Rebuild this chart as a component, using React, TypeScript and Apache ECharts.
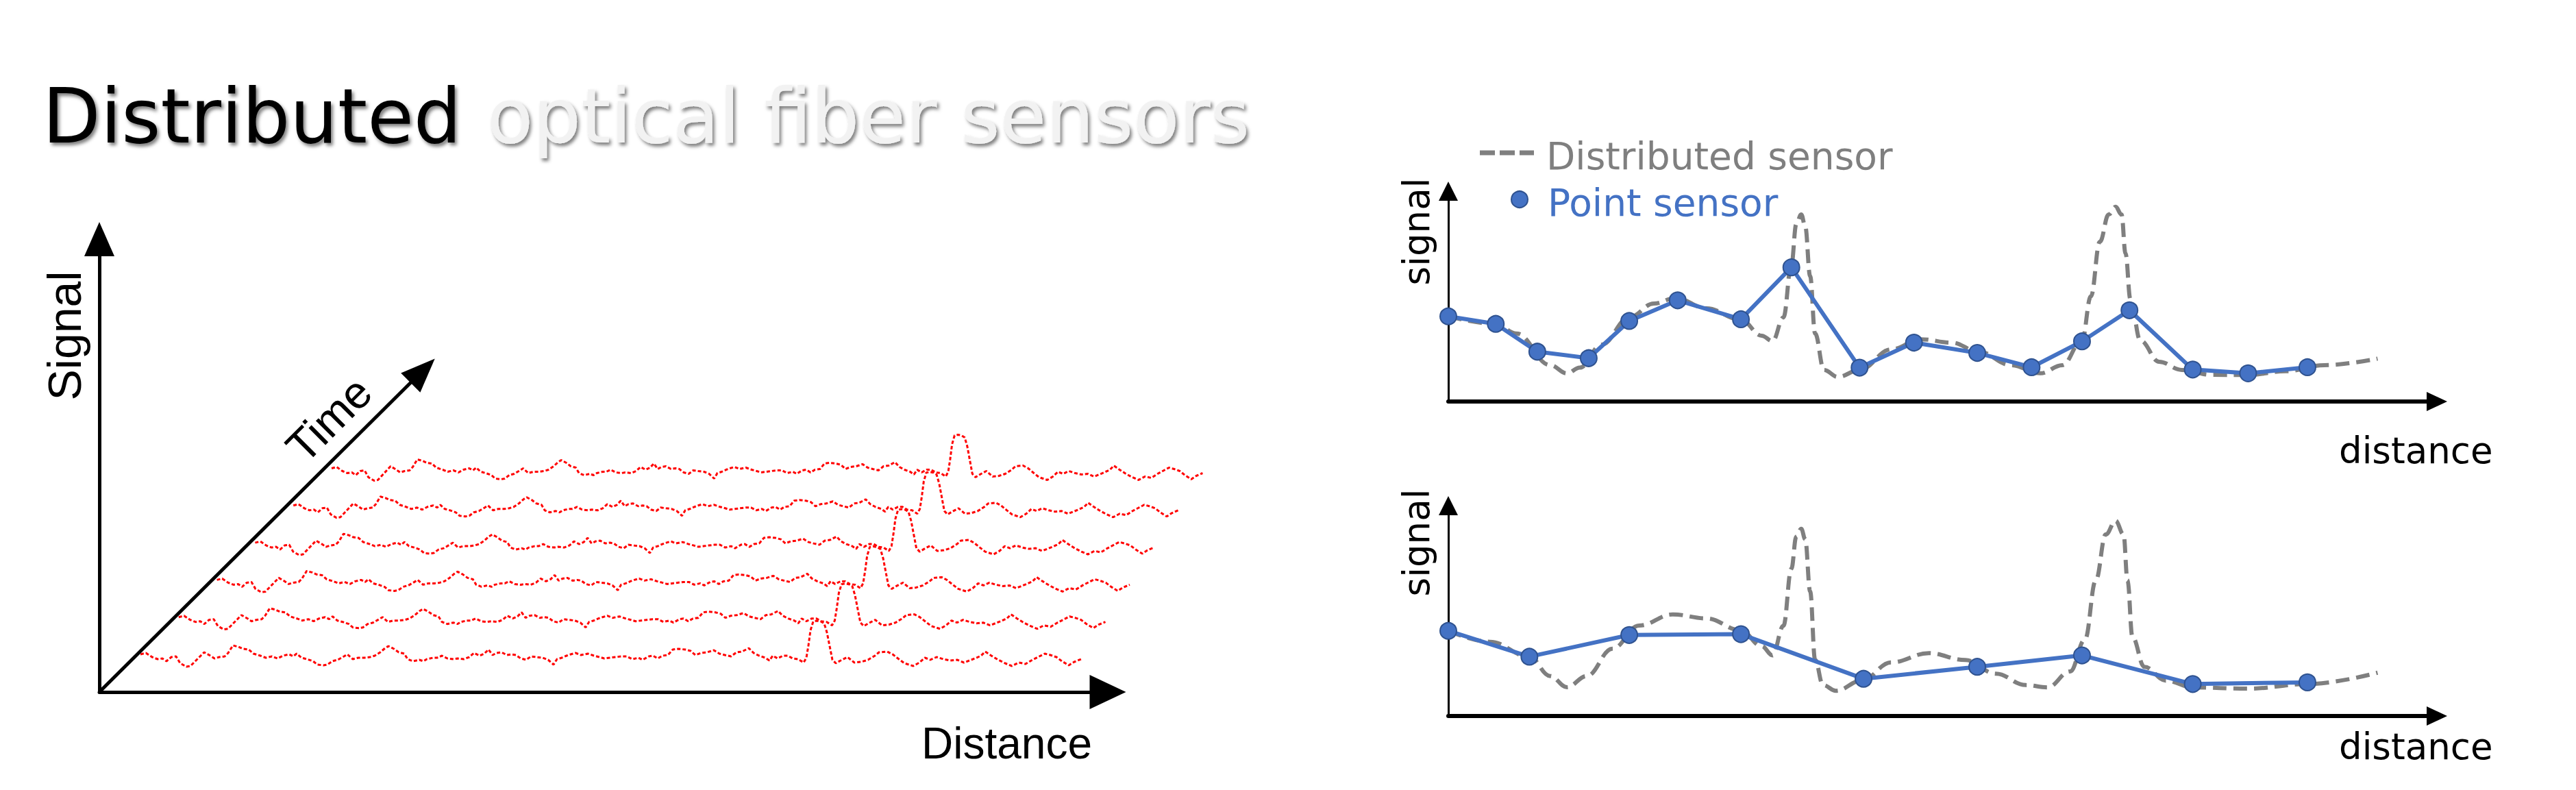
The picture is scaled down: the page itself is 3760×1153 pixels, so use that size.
import { useEffect, useRef } from "react";
import * as echarts from "echarts";

// ---------- DATA ----------
const TITLE_DARK = "Distributed";
const TITLE_LIGHT = "optical fiber sensors";

// Left panel: one recorded trace [distance, signal] (repeated at successive times)
const traceSamples: number[][] = [
  [0, 5], [8, 7], [17, 1], [25, -2], [32, -1], [38, -5], [45, 1], [52, 2], [58, -8], [67, -13], [73, -12], [80, -5],
  [87, 2], [93, 8], [102, 3], [108, -1], [115, 1], [123, 2], [128, 7], [135, 18], [143, 16], [150, 13], [158, 12],
  [165, 6], [175, 3], [183, 0], [192, 2], [200, -1], [208, 3], [217, 5], [223, 2], [228, 6], [235, 0], [243, -2],
  [252, -5], [258, -10], [267, -11], [273, -10], [280, -5], [288, -3], [297, 2], [302, 5], [310, -2], [318, 0],
  [327, 0], [335, 1], [342, 3], [350, 8], [357, 14], [362, 17], [370, 13], [377, 8], [385, 6], [390, -2], [398, -5],
  [407, -3], [413, -5], [418, -2], [427, 0], [433, 0], [440, 3], [448, -1], [457, -2], [463, -1], [472, -2], [480, 1],
  [487, 7], [495, 3], [502, 6], [508, 12], [514, 4], [520, 7], [527, 8], [535, 4], [542, 5], [548, 4], [555, -1],
  [563, -3], [570, 2], [578, 1], [587, 0], [595, -3], [603, -10], [608, -2], [615, 0], [622, 3], [628, 5], [635, 7],
  [643, 4], [653, 6], [662, 3], [670, 1], [677, -1], [685, 0], [693, 1], [702, 2], [710, 2], [718, -2], [727, 0],
  [733, -3], [742, 2], [748, 3], [755, -1], [762, 3], [770, 4], [777, 12], [785, 13], [795, 12], [803, 10], [810, 4],
  [818, 7], [827, 8], [837, 11], [845, 6], [853, 4], [862, 2], [870, 8], [878, 9], [888, 14], [895, 7], [903, 3],
  [912, 0], [918, -4], [923, 3], [930, -1], [938, 3], [945, 3], [952, -1], [960, -2], [968, -7], [972, 0], [975, 18],
  [978, 40], [982, 53], [987, 54], [993, 53], [998, 50], [1002, 37], [1006, 17], [1010, -3], [1015, -8], [1022, -4],
  [1032, 1], [1042, -7], [1052, -6], [1062, -3], [1072, 3], [1078, 8], [1090, 9], [1098, 5], [1107, -2], [1115, -8],
  [1128, -12], [1137, -7], [1145, 0], [1153, -3], [1162, 1], [1172, -2], [1182, -4], [1192, -3], [1202, -7],
  [1210, -4], [1218, -1], [1227, 3], [1233, 9], [1242, 3], [1252, -3], [1262, -8], [1272, -12], [1282, -7],
  [1292, -9], [1302, -3], [1312, 2], [1320, 6], [1328, 4], [1337, 1], [1345, -5], [1355, -11], [1363, -6], [1373, -2],
];
const timeSteps = [0, 1, 2, 3, 4, 5];

// Right top panel
const pointTopX = [0, 4.8, 9.0, 14.2, 18.3, 23.2, 29.6, 34.7, 41.6, 47.1, 53.5, 59.0, 64.1, 68.9, 75.3, 80.9, 86.9];
const pointTopY = [40.5, 36.9, 23.7, 20.6, 38.3, 48.1, 39.1, 63.8, 16.1, 28.0, 23.1, 16.3, 28.6, 43.4, 15.2, 13.4, 16.3];
const distTop: number[][] = [
  [0, 40.5], [4.8, 36.9], [6.9, 32.3], [10.3, 17.3], [12.0, 13.4], [13.3, 16.1], [15.5, 27], [18.3, 40], [20.8, 46.6],
  [23.0, 49.2], [26.1, 44.3], [29.6, 38.9], [31.7, 31.3], [32.8, 28.7], [33.9, 40], [34.7, 64.9], [35.2, 84.4],
  [35.7, 88.9], [36.1, 83.4], [36.6, 59.6], [37.1, 32.3], [38.0, 15], [39.4, 11.7], [41.6, 15], [44.8, 24.8],
  [47.8, 29.6], [50.9, 28], [53.6, 23.8], [56.9, 17.3], [59.9, 13.4], [62.1, 17.3], [64.1, 29], [65.0, 50],
  [65.9, 75.9], [66.8, 88.9], [67.5, 92.6], [68.1, 88.9], [68.5, 70.4], [69.0, 48.5], [70.0, 29], [71.9, 18.9],
  [74.2, 15], [77.2, 12.7], [80.9, 12.6], [84.7, 14.4], [88.6, 17.3], [94.0, 20.4],
];

// Right bottom panel
const pointBotX = [0, 8.2, 18.3, 29.6, 42.0, 53.5, 64.1, 75.3, 86.9];
const pointBotY = [40.5, 28.2, 38.5, 38.9, 17.7, 23.4, 28.8, 15.2, 16.0];
const distBot: number[][] = [
  [0, 40.5], [4.2, 35.3], [8.2, 28.2], [10.3, 19], [12.0, 13.7], [14.0, 19], [16.6, 32], [19.3, 43], [22.7, 48.3],
  [26.1, 46.4], [29.6, 40.7], [31.7, 33.2], [32.8, 28.8], [33.9, 42.9], [34.7, 70], [35.2, 85.3], [35.7, 89],
  [36.1, 84.1], [36.6, 59.3], [37.1, 26.7], [37.9, 14.7], [39.2, 12], [41.8, 16.8], [44.8, 25.5], [48.6, 29.9],
  [52.3, 26.6], [55.4, 20.1], [58.4, 14.7], [60.6, 13.6], [62.9, 21.2], [64.4, 36.4], [65.5, 64.6], [66.5, 86.3],
  [67.5, 92.8], [68.3, 86.3], [68.7, 64.6], [69.2, 37.5], [70.4, 23.4], [72.6, 16.8], [75.3, 13.6], [80.9, 13],
  [86.9, 15.2], [94.0, 20.6],
];

// ---------- LAYOUT (projection of time onto the page) ----------
const TRACE_X0 = 60;
const TRACE_Y0 = 50;
const TIME_DX = 55.8;
const TIME_DY = 54.3;
const TIME_SHRINK = 0.0148;

const BLUE = "#4472c4";
const GRAY = "#7f7f7f";

function buildOption(): any {
  const hiddenBits = {
    axisTick: { show: false },
    axisLabel: { show: false },
    splitLine: { show: false },
  };

  const traceSeries = timeSteps.map((k) => ({
    type: "line",
    xAxisIndex: 3,
    yAxisIndex: 3,
    silent: true,
    showSymbol: false,
    symbol: "none",
    z: 2,
    lineStyle: { color: "#ff0000", width: 3, type: [5, 3] },
    data: traceSamples.map(([u, s]) => [
      TRACE_X0 + TIME_DX * k + u * (1 - TIME_SHRINK * k),
      TRACE_Y0 + TIME_DY * k + s,
    ]),
    markLine:
      k === 0
        ? {
            silent: true,
            symbol: ["none", "triangle"],
            symbolSize: [40, 50],
            label: { show: false },
            lineStyle: { color: "#000", width: 5, type: "solid" },
            data: [[{ coord: [0, 0] }, { coord: [472, 469] }]],
          }
        : undefined,
  }));

  const rightSeries = (gi: number, dist: number[][], px: number[], py: number[]) => [
    {
      name: "Distributed sensor",
      type: "line",
      xAxisIndex: gi,
      yAxisIndex: gi,
      smooth: 0.4,
      smoothMonotone: "x",
      showSymbol: false,
      symbol: "none",
      z: 2,
      lineStyle: { color: GRAY, width: 6, type: [20, 10] },
      data: dist,
    },
    {
      name: "Point sensor",
      type: "line",
      xAxisIndex: gi,
      yAxisIndex: gi,
      symbol: "circle",
      symbolSize: 24,
      z: 3,
      itemStyle: { color: BLUE, borderColor: "#2f528f", borderWidth: 2 },
      lineStyle: { color: BLUE, width: 6 },
      data: px.map((x, i) => [x, py[i]]),
    },
  ];

  const rightX = (gi: number) => ({
    gridIndex: gi,
    type: "value",
    min: 0,
    max: 100,
    axisLine: {
      show: true,
      onZero: false,
      symbol: ["none", "triangle"],
      symbolSize: [28, 30],
      lineStyle: { color: "#000", width: 6 },
    },
    ...hiddenBits,
  });
  const rightY = (gi: number) => ({
    gridIndex: gi,
    type: "value",
    min: 0,
    max: 100,
    axisLine: {
      show: true,
      onZero: false,
      symbol: ["none", "triangle"],
      symbolSize: [28, 28],
      lineStyle: { color: "#000", width: 3 },
    },
    ...hiddenBits,
  });

  const shadow = {
    textShadowColor: "rgba(0,0,0,0.5)",
    textShadowBlur: 5,
    textShadowOffsetX: 3,
    textShadowOffsetY: 4,
  };

  const graphic = [
    {
      type: "text",
      x: 62,
      y: 170,
      style: {
        text: TITLE_DARK,
        font: '110px "DejaVu Sans"',
        fill: "#000",
        textAlign: "left",
        textVerticalAlign: "middle",
        ...shadow,
      },
    },
    {
      type: "text",
      x: 711,
      y: 170,
      style: {
        text: TITLE_LIGHT,
        font: '110px "DejaVu Sans"',
        fill: "#f2f2f2",
        textAlign: "left",
        textVerticalAlign: "middle",
        ...shadow,
      },
    },
    {
      type: "text",
      x: 94,
      y: 490,
      rotation: Math.PI / 2,
      style: {
        text: "Signal",
        font: '68px "Liberation Sans", Arial',
        fill: "#000",
        textAlign: "center",
        textVerticalAlign: "middle",
      },
    },
    {
      type: "text",
      x: 480,
      y: 612,
      rotation: Math.PI / 4,
      style: {
        text: "Time",
        font: '66px "Liberation Sans", Arial',
        fill: "#000",
        textAlign: "center",
        textVerticalAlign: "middle",
      },
    },
    {
      type: "text",
      x: 1345,
      y: 1085,
      style: {
        text: "Distance",
        font: '64px "Liberation Sans", Arial',
        fill: "#000",
        textAlign: "left",
        textVerticalAlign: "middle",
      },
    },
    // legend
    {
      type: "line",
      shape: { x1: 2160, y1: 223, x2: 2239, y2: 223 },
      style: { stroke: GRAY, lineWidth: 7, lineDash: [22, 7] },
    },
    {
      type: "text",
      x: 2257,
      y: 228,
      style: {
        text: "Distributed sensor",
        font: '55px "DejaVu Sans"',
        fill: GRAY,
        textAlign: "left",
        textVerticalAlign: "middle",
      },
    },
    {
      type: "circle",
      shape: { cx: 2218, cy: 291, r: 12 },
      style: { fill: BLUE, stroke: "#2f528f", lineWidth: 2 },
    },
    {
      type: "text",
      x: 2259,
      y: 296,
      style: {
        text: "Point sensor",
        font: '55px "DejaVu Sans"',
        fill: BLUE,
        textAlign: "left",
        textVerticalAlign: "middle",
      },
    },
    // right axis titles
    {
      type: "text",
      x: 2067,
      y: 338,
      rotation: Math.PI / 2,
      style: { text: "signal", font: '53px "DejaVu Sans"', fill: "#000", textAlign: "center", textVerticalAlign: "middle" },
    },
    {
      type: "text",
      x: 2067,
      y: 792,
      rotation: Math.PI / 2,
      style: { text: "signal", font: '53px "DejaVu Sans"', fill: "#000", textAlign: "center", textVerticalAlign: "middle" },
    },
    {
      type: "text",
      x: 3414,
      y: 657,
      style: { text: "distance", font: '53px "DejaVu Sans"', fill: "#000", textAlign: "left", textVerticalAlign: "middle" },
    },
    {
      type: "text",
      x: 3414,
      y: 1089,
      style: { text: "distance", font: '53px "DejaVu Sans"', fill: "#000", textAlign: "left", textVerticalAlign: "middle" },
    },
  ];

  return {
    animation: false,
    backgroundColor: "#ffffff",
    grid: [
      { left: 145, top: 349, width: 1472, height: 661 },
      { left: 2114, top: 279, width: 1443, height: 307 },
      { left: 2114, top: 738, width: 1443, height: 307 },
      // same origin and scale as grid 0, wider so the later traces are not cut at the arrow
      { left: 145, top: 349, width: 1700, height: 661 },
    ],
    xAxis: [
      {
        gridIndex: 0,
        type: "value",
        min: 0,
        max: 1472,
        axisLine: {
          show: true,
          onZero: false,
          symbol: ["none", "triangle"],
          symbolSize: [50, 53],
          lineStyle: { color: "#000", width: 5 },
        },
        ...hiddenBits,
      },
      rightX(1),
      rightX(2),
      { gridIndex: 3, type: "value", min: 0, max: 1700, show: false },
    ],
    yAxis: [
      {
        gridIndex: 0,
        type: "value",
        min: 0,
        max: 661,
        axisLine: {
          show: true,
          onZero: false,
          symbol: ["none", "triangle"],
          symbolSize: [44, 50],
          lineStyle: { color: "#000", width: 5 },
        },
        ...hiddenBits,
      },
      rightY(1),
      rightY(2),
      { gridIndex: 3, type: "value", min: 0, max: 661, show: false },
    ],
    series: [
      ...traceSeries,
      ...rightSeries(1, distTop, pointTopX, pointTopY),
      ...rightSeries(2, distBot, pointBotX, pointBotY),
    ],
    graphic,
  };
}

export default function App() {
  const ref = useRef<HTMLDivElement>(null);
  useEffect(() => {
    if (!ref.current) return;
    const chart = echarts.init(ref.current, undefined, { renderer: "svg" });
    chart.setOption(buildOption());
    return () => chart.dispose();
  }, []);
  return (
    <div
      ref={ref}
      style={{ position: "fixed", left: 0, top: 0, width: 3760, height: 1153, background: "#fff" }}
    />
  );
}
